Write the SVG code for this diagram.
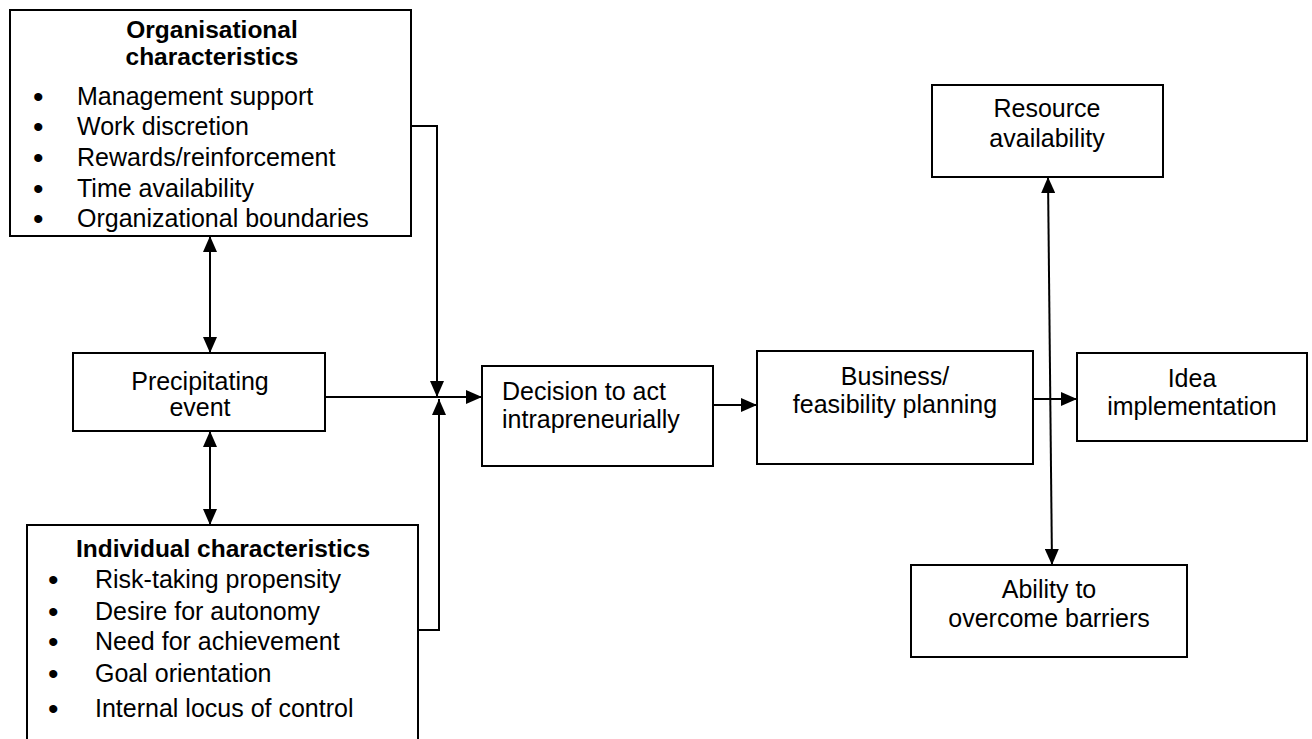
<svg xmlns="http://www.w3.org/2000/svg" width="1312" height="739" viewBox="0 0 1312 739">
  <defs>
    <marker id="arrow" viewBox="0 0 16 14" refX="16" refY="7" markerWidth="16" markerHeight="14" markerUnits="userSpaceOnUse" orient="auto-start-reverse">
      <path d="M0,0 L16,7 L0,14 Z" fill="#000"/>
    </marker>
    <style>
      .box { fill: #fff; stroke: #000; stroke-width: 2; }
      .t { font-family: "Liberation Sans", Arial, sans-serif; font-size: 25px; fill: #000; }
      .c { text-anchor: middle; }
      .b { font-weight: bold; font-size: 24.5px; }
      .dot { font-size: 30px; }
      .con { fill: none; stroke: #000; stroke-width: 2; }
    </style>
  </defs>
  <rect width="1312" height="739" fill="#fff"/>

  <g id="connectors">
    <line class="con" x1="210" y1="236" x2="210" y2="353" marker-start="url(#arrow)" marker-end="url(#arrow)"/>
    <line class="con" x1="210" y1="431" x2="210" y2="525" marker-start="url(#arrow)" marker-end="url(#arrow)"/>
    <path class="con" d="M411,126 H437 V397" marker-end="url(#arrow)"/>
    <path class="con" d="M418,630 H439 V399" marker-end="url(#arrow)"/>
    <path class="con" d="M325,397 H482" marker-end="url(#arrow)"/>
    <path class="con" d="M713,405 H757" marker-end="url(#arrow)"/>
    <path class="con" d="M1033,399 H1077" marker-end="url(#arrow)"/>
    <line class="con" x1="1048" y1="177" x2="1052" y2="565" marker-start="url(#arrow)" marker-end="url(#arrow)"/>
  </g>

  <g id="organisational">
    <rect class="box" x="10" y="10" width="401" height="226"/>
    <text class="t b c" x="212" y="38">Organisational</text>
    <text class="t b c" x="212" y="65">characteristics</text>
    <g class="t">
      <text class="dot" x="33" y="107">•</text><text x="77" y="105">Management support</text>
      <text class="dot" x="33" y="137">•</text><text x="77" y="135">Work discretion</text>
      <text class="dot" x="33" y="168">•</text><text x="77" y="166">Rewards/reinforcement</text>
      <text class="dot" x="33" y="199">•</text><text x="77" y="197">Time availability</text>
      <text class="dot" x="33" y="229">•</text><text x="77" y="227">Organizational boundaries</text>
    </g>
  </g>

  <g id="precipitating">
    <rect class="box" x="73" y="353" width="252" height="78"/>
    <text class="t c" x="200" y="390">Precipitating</text>
    <text class="t c" x="200" y="416">event</text>
  </g>

  <g id="individual">
    <rect class="box" x="27" y="525" width="391" height="230"/>
    <text class="t b c" x="223" y="557">Individual characteristics</text>
    <g class="t">
      <text class="dot" x="48" y="590">•</text><text x="95" y="588">Risk-taking propensity</text>
      <text class="dot" x="48" y="622">•</text><text x="95" y="620">Desire for autonomy</text>
      <text class="dot" x="48" y="652">•</text><text x="95" y="650">Need for achievement</text>
      <text class="dot" x="48" y="684">•</text><text x="95" y="682">Goal orientation</text>
      <text class="dot" x="48" y="719">•</text><text x="95" y="717">Internal locus of control</text>
    </g>
  </g>

  <g id="decision">
    <rect class="box" x="482" y="366" width="231" height="100"/>
    <text class="t" x="502" y="400">Decision to act</text>
    <text class="t" x="502" y="428">intrapreneurially</text>
  </g>

  <g id="business">
    <rect class="box" x="757" y="351" width="276" height="113"/>
    <text class="t c" x="895" y="385">Business/</text>
    <text class="t c" x="895" y="413">feasibility planning</text>
  </g>

  <g id="idea">
    <rect class="box" x="1077" y="353" width="230" height="88"/>
    <text class="t c" x="1192" y="387">Idea</text>
    <text class="t c" x="1192" y="415">implementation</text>
  </g>

  <g id="resource">
    <rect class="box" x="932" y="85" width="231" height="92"/>
    <text class="t c" x="1047" y="117">Resource</text>
    <text class="t c" x="1047" y="147">availability</text>
  </g>

  <g id="ability">
    <rect class="box" x="911" y="565" width="276" height="92"/>
    <text class="t c" x="1049" y="598">Ability to</text>
    <text class="t c" x="1049" y="627">overcome barriers</text>
  </g>
</svg>
